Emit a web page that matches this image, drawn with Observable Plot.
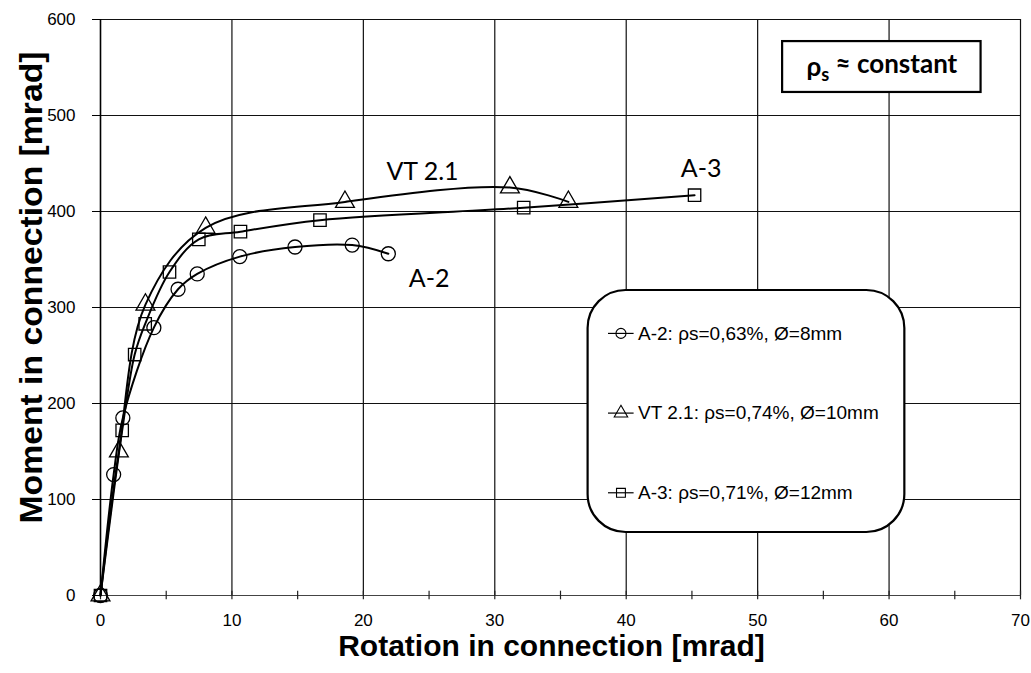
<!DOCTYPE html>
<html><head><meta charset="utf-8">
<script src="https://cdn.jsdelivr.net/npm/d3@7"></script>
<script src="https://cdn.jsdelivr.net/npm/@observablehq/plot@0.6"></script>
<style>
body{margin:0;background:#fff;}
#chart svg{display:block;}
</style></head><body><div id="chart"></div>
<script>
// ---- data ----
const a2Rotation=[0,1.0,1.7,4.06,5.9,7.36,10.6,14.8,19.15,21.9];
const a2Moment  =[0,126,185,279,319,335,353,363,365,356];
const vtRotation=[0,1.4,3.42,8.0,18.6,31.15,35.6];
const vtMoment  =[0,150,303,383,410,425,410];
const a3Rotation=[0,1.65,2.6,3.4,5.25,7.48,10.65,16.7,32.2,45.2];
const a3Moment  =[0,172,251,283,337,371,379,391,404,417];
const seriesNames=["A-2","VT 2.1","A-3"];
const seriesSymbols=["circle","triangle","square"];
const legendLabels=["A-2: ρs=0,63%, Ø=8mm","VT 2.1: ρs=0,74%, Ø=10mm","A-3: ρs=0,71%, Ø=12mm"];
const xTicks=[0,10,20,30,40,50,60,70];
const yTicks=[0,100,200,300,400,500,600];
const xMinorTicks=[0,5,10,15,20,25,30,35,40,45,50,55,60,65,70];
const xTitle="Rotation in connection [mrad]";
const yTitle="Moment in connection [mrad]";
const boxText="ρs ≈ constant";

const toRows=(xs,ys,name)=>xs.map((x,i)=>({x,y:ys[i],name}));
const a2=toRows(a2Rotation,a2Moment,seriesNames[0]);
const vt=toRows(vtRotation,vtMoment,seriesNames[1]);
const a3=toRows(a3Rotation,a3Moment,seriesNames[2]);
const series=[a2,vt,a3];

// ---- annotation placement (in data units) ----
const seriesLabelPos=[{x:25.0,y:330},{x:24.5,y:441},{x:45.7,y:444}];
const legendRowY=[273,190,107];
const legend=legendLabels.map((t,i)=>({t,y:legendRowY[i],symbol:seriesSymbols[i]}));

const marks=[
  Plot.ruleX(xTicks.slice(1),{stroke:"#111",strokeWidth:1.2}),
  Plot.ruleY(yTicks.slice(1),{stroke:"#111",strokeWidth:1.2}),
  Plot.ruleY([0],{stroke:"#444",strokeWidth:1.2}),
  Plot.ruleX(xMinorTicks,{y1:-4.5,y2:4.5,stroke:"#222",strokeWidth:1.2}),
  Plot.ruleX([0],{stroke:"#000",strokeWidth:1.6}),
  Plot.axisY({ticks:yTicks,tickSize:8,tickPadding:17,fontSize:17,label:null}),
  Plot.axisX({ticks:xTicks,tickSize:0,tickPadding:18,fontSize:17,label:null}),
  ...series.map(d=>Plot.line(d,{x:"x",y:"y",curve:"catmull-rom",stroke:"#000",strokeWidth:2})),
  ...series.map((d,i)=>Plot.dot(d,{x:"x",y:"y",symbol:seriesSymbols[i],r:7,fill:"none",stroke:"#000",strokeWidth:1.3})),
  Plot.text(seriesNames,{x:(d,i)=>seriesLabelPos[i].x,y:(d,i)=>seriesLabelPos[i].y,text:d=>d,fontSize:25,fontFamily:"Lato"}),
  // constant box
  Plot.rect([boxText],{x1:51.9,x2:67.0,y1:524,y2:577,fill:"#fff",stroke:"#000",strokeWidth:2.2}),
  Plot.text([boxText],{x:59.45,y:550,text:d=>d,fontSize:26,fontWeight:"bold",fontFamily:"Lato"}),
  // legend box
  Plot.rect([0],{x1:37.1,x2:61.2,y1:65.6,y2:317.7,rx:38,fill:"#fff",stroke:"#000",strokeWidth:2.2}),
  Plot.ruleY(legend,{y:"y",x1:38.65,x2:40.6,stroke:"#000",strokeWidth:1.2}),
  Plot.dot(legend,{x:39.6,y:"y",symbol:"symbol",r:5,fill:"none",stroke:"#000",strokeWidth:1.1}),
  Plot.text(legend,{x:40.9,y:"y",text:"t",textAnchor:"start",fontSize:19}),
  // titles
  Plot.text([yTitle],{frameAnchor:"left",textAnchor:"middle",rotate:-90,dx:-68,dy:-20,text:d=>d,fontSize:31,fontWeight:"bold"}),
  Plot.text([xTitle],{frameAnchor:"bottom",textAnchor:"middle",dy:60,dx:-9,text:d=>d,fontSize:30,fontWeight:"bold"})
];

const chart=Plot.plot({
  width:1031,height:673,
  marginLeft:100,marginRight:11,marginTop:19,marginBottom:78,
  x:{domain:[0,70],axis:null},
  y:{domain:[0,600],axis:null},
  style:{fontFamily:"'Liberation Sans', Arial, sans-serif",background:"#fff",color:"#000",overflow:"visible"},
  marks
});
d3.select(chart).selectAll("text").filter(function(){return this.textContent===boxText;})
  .each(function(){
    this.textContent="";
    const t=d3.select(this);
    t.append("tspan").text("ρ");
    t.append("tspan").attr("dy","0.3em").attr("font-size","70%").text("s");
    t.append("tspan").attr("dy","-0.3em").text(" ≈ constant");
  });
d3.select(chart).selectAll("text").filter(function(){return this.textContent===yTitle;})
  .attr("textLength",472).attr("lengthAdjust","spacingAndGlyphs");
document.getElementById("chart").append(chart);
</script></body></html>
